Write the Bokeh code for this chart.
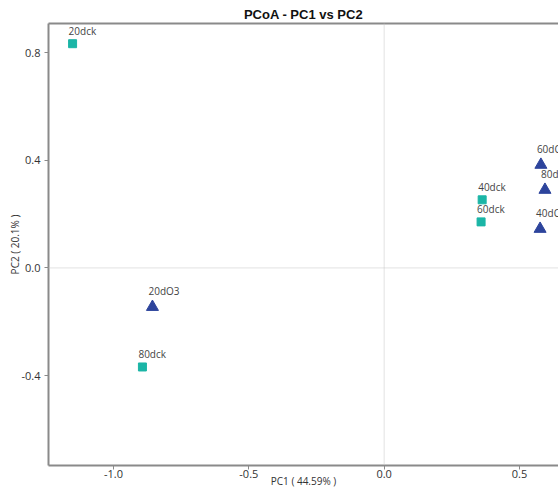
from bokeh.plotting import figure
from bokeh.models import (Range1d, FixedTicker, PrintfTickFormatter, Span,
                          ColumnDataSource, LinearAxis)
from bokeh.core.properties import value
from bokeh.embed import file_html
from bokeh.resources import INLINE

# data
ck_names = ["20dck", "80dck", "40dck", "60dck"]
ck_pc1 = [-1.151, -0.893, 0.362, 0.358]
ck_pc2 = [0.833, -0.368, 0.253, 0.171]

o3_names = ["20dO3", "60dO3", "80dO3", "40dO3"]
o3_pc1 = [-0.856, 0.579, 0.594, 0.576]
o3_pc2 = [-0.145, 0.383, 0.290, 0.145]

x_ticks = [-1.0, -0.5, 0.0, 0.5]
y_ticks = [-0.4, 0.0, 0.4, 0.8]

FONT = "Open Sans"
AXIS_COL = "#8a8a8a"

p = figure(width=558, height=490, output_backend="svg", toolbar_location=None,
           x_range=Range1d(-1.24, 0.644), y_range=Range1d(-0.734, 0.908),
           title="PCoA - PC1 vs PC2", x_axis_label="PC1 ( 44.59% )",
           y_axis_label="PC2 ( 20.1% )")
p.min_border_left = 48
p.min_border_right = 0
p.min_border_top = 23
p.min_border_bottom = 25
p.outline_line_color = None
p.grid.visible = False
p.background_fill_color = "white"

p.title.align = "center"
p.title.text_font = "Liberation Sans"
p.title.text_font_style = "bold"
p.title.text_font_size = "13px"
p.title.text_color = "#111111"
p.title.standoff = 4
p.title.offset = 6

for ax in (p.xaxis[0], p.yaxis[0]):
    ax.axis_line_color = AXIS_COL
    ax.axis_line_width = 2
    ax.major_tick_line_color = AXIS_COL
    ax.major_tick_out = 4
    ax.major_tick_in = 0
    ax.minor_tick_line_color = None
    ax.major_label_text_font = FONT
    ax.major_label_text_font_size = "11px"
    ax.major_label_text_color = "#333333"
    ax.axis_label_text_font = FONT
    ax.axis_label_text_font_size = "10px"
    ax.axis_label_text_font_style = "normal"
    ax.axis_label_text_color = "#333333"
    ax.formatter = PrintfTickFormatter(format="%.1f")

p.xaxis[0].ticker = FixedTicker(ticks=x_ticks)
p.yaxis[0].ticker = FixedTicker(ticks=y_ticks)
p.xaxis[0].major_label_standoff = 0
p.xaxis[0].axis_label_standoff = -7
p.yaxis[0].major_label_standoff = 4
p.yaxis[0].axis_label_standoff = -4

top = LinearAxis(ticker=FixedTicker(ticks=[]), axis_line_color=AXIS_COL,
                 axis_line_width=2, major_tick_line_color=None,
                 minor_tick_line_color=None, major_label_text_font_size="0px")
p.add_layout(top, "above")

p.add_layout(Span(location=0, dimension="height", line_color="#c4c4c4",
                  line_width=1, line_dash="1 1"))
p.add_layout(Span(location=0, dimension="width", line_color="#c4c4c4",
                  line_width=1, line_dash="1 1"))

ck = ColumnDataSource(dict(x=ck_pc1, y=ck_pc2, name=ck_names))
o3 = ColumnDataSource(dict(x=o3_pc1, y=o3_pc2, name=o3_names))

p.scatter("x", "y", source=ck, marker="square", size=8,
          fill_color="#1BB5A6", line_color="#1BB5A6")
p.scatter("x", "y", source=o3, marker="triangle", size=12,
          fill_color="#2D449C", line_color="#2D449C")

p.text("x", "y", text="name", source=ck, text_font=value(FONT),
       text_font_size="10px", text_color="#444444", text_align="left",
       text_baseline="bottom", x_offset=-4, y_offset=-6)
p.text("x", "y", text="name", source=o3, text_font=value(FONT),
       text_font_size="10px", text_color="#444444", text_align="left",
       text_baseline="bottom", x_offset=-4, y_offset=-9)

open("out.html", "w").write(file_html(p, INLINE))
